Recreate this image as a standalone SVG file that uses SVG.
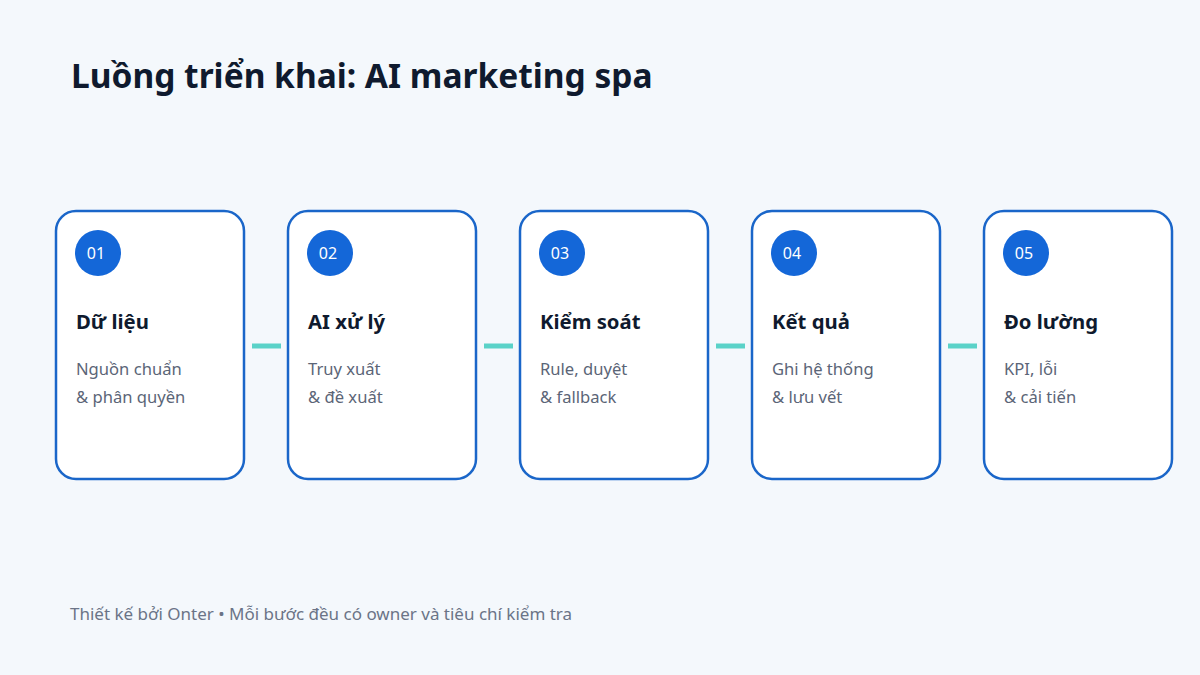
<svg xmlns="http://www.w3.org/2000/svg" width="1200" height="675" viewBox="0 0 1200 675">
<style>
.card{fill:#ffffff;stroke:#1a66c9;stroke-width:2.5}
.badge{fill:#1467d8}
.num{font-family:"Noto Sans","Open Sans",sans-serif;font-size:16px;fill:#ffffff;text-anchor:middle}
.h{font-family:"Noto Sans","Open Sans",sans-serif;font-size:20.3px;font-weight:700;fill:#0f1a2e}
.d{font-family:"Noto Sans","Open Sans",sans-serif;font-size:16.6px;fill:#5b6577}
.conn{stroke:#5ad2c8;stroke-width:5}
</style>
<rect width="1200" height="675" fill="#f4f8fc"/>
<text x="71" y="88" font-family="'Noto Sans','Open Sans',sans-serif" font-size="33.5" font-weight="700" fill="#0f1a2e">Luồng triển khai: AI marketing spa</text>
<g id="connectors">
<line class="conn" x1="252" y1="346" x2="281" y2="346"/>
<line class="conn" x1="484" y1="346" x2="513" y2="346"/>
<line class="conn" x1="716" y1="346" x2="745" y2="346"/>
<line class="conn" x1="948" y1="346" x2="977" y2="346"/>
</g>
<g id="step1">
<rect class="card" x="56" y="211" width="188" height="268" rx="20"/>
<circle class="badge" cx="98" cy="253" r="23"/>
<text class="num" x="96" y="259">01</text>
<text class="h" x="76" y="329">Dữ liệu</text>
<text class="d" x="76" y="375">Nguồn chuẩn</text>
<text class="d" x="76" y="403">&amp; phân quyền</text>
</g>
<g id="step2">
<rect class="card" x="288" y="211" width="188" height="268" rx="20"/>
<circle class="badge" cx="330" cy="253" r="23"/>
<text class="num" x="328" y="259">02</text>
<text class="h" x="308" y="329">AI xử lý</text>
<text class="d" x="308" y="375">Truy xuất</text>
<text class="d" x="308" y="403">&amp; đề xuất</text>
</g>
<g id="step3">
<rect class="card" x="520" y="211" width="188" height="268" rx="20"/>
<circle class="badge" cx="562" cy="253" r="23"/>
<text class="num" x="560" y="259">03</text>
<text class="h" x="540" y="329">Kiểm soát</text>
<text class="d" x="540" y="375">Rule, duyệt</text>
<text class="d" x="540" y="403">&amp; fallback</text>
</g>
<g id="step4">
<rect class="card" x="752" y="211" width="188" height="268" rx="20"/>
<circle class="badge" cx="794" cy="253" r="23"/>
<text class="num" x="792" y="259">04</text>
<text class="h" x="772" y="329">Kết quả</text>
<text class="d" x="772" y="375">Ghi hệ thống</text>
<text class="d" x="772" y="403">&amp; lưu vết</text>
</g>
<g id="step5">
<rect class="card" x="984" y="211" width="188" height="268" rx="20"/>
<circle class="badge" cx="1026" cy="253" r="23"/>
<text class="num" x="1024" y="259">05</text>
<text class="h" x="1004" y="329">Đo lường</text>
<text class="d" x="1004" y="375">KPI, lỗi</text>
<text class="d" x="1004" y="403">&amp; cải tiến</text>
</g>
<text x="70" y="620" font-family="'Noto Sans','Open Sans',sans-serif" font-size="17" fill="#6b7487">Thiết kế bởi Onter • Mỗi bước đều có owner và tiêu chí kiểm tra</text>
</svg>
